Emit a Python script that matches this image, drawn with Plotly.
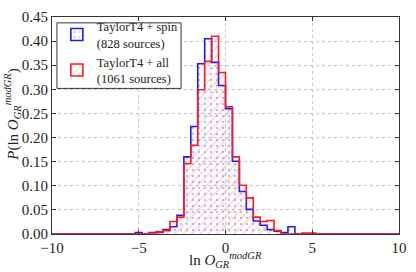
import plotly.graph_objects as go

# Histogram bin edges (shared) and densities
bin_edges = [-10.0, -5.2, -4.8, -4.4, -4.0, -3.6, -3.2, -2.8, -2.4, -2.0, -1.6,
             -1.2, -0.8, -0.4, 0.0, 0.4, 0.8, 1.2, 1.6, 2.0, 2.4, 2.8, 3.2,
             3.6, 4.0, 4.4, 4.8, 5.2, 10.0]
spin_density = [0.0, 0.003, 0.0, 0.003, 0.003, 0.009, 0.015, 0.039, 0.160, 0.223,
                0.353, 0.405, 0.356, 0.308, 0.260, 0.151, 0.088, 0.051, 0.027,
                0.018, 0.009, 0.006, 0.003, 0.015, 0.0, 0.0, 0.0, 0.0]
all_density = [0.0, 0.0, 0.0, 0.002, 0.005, 0.007, 0.026, 0.035, 0.146, 0.184,
               0.299, 0.358, 0.410, 0.335, 0.264, 0.160, 0.101, 0.075, 0.035,
               0.026, 0.028, 0.007, 0.0, 0.0, 0.0, 0.002, 0.002, 0.0]
spin_label = "TaylorT4 + spin<br>(828 sources)"
all_label = "TaylorT4 + all<br>(1061 sources)"

x_ticks = [-10, -5, 0, 5, 10]
x_tick_text = ["\u221210", "\u22125", "0", "5", "10"]
y_ticks = [0.0, 0.05, 0.10, 0.15, 0.20, 0.25, 0.30, 0.35, 0.40, 0.45]
y_tick_text = ["%.2f" % v for v in y_ticks]

FONT = "Times New Roman, Times, Liberation Serif, DejaVu Serif, serif"
BLUE = "#1a1aff"
RED = "#ff1a1a"
blue_pat = dict(shape=".", fgcolor="rgba(40,40,255,0.6)", bgcolor="rgba(0,0,0,0)",
                size=6, solidity=0.14)
red_pat = dict(shape="/", fgcolor="rgba(255,70,70,0.7)", bgcolor="rgba(0,0,0,0)",
               size=6, solidity=0.17)


def step_xy(edges, vals):
    xs = list(edges)
    ys = list(vals) + [vals[-1]]
    return xs, ys


fig = go.Figure()
xs, ys = step_xy(bin_edges, spin_density)
fig.add_trace(go.Scatter(
    x=xs, y=ys, mode="lines", line=dict(shape="hv", color=BLUE, width=1.6),
    fill="tozeroy", fillcolor="rgba(0,0,0,0)", fillpattern=blue_pat,
    showlegend=False, cliponaxis=False, hoverinfo="skip"))
xs, ys = step_xy(bin_edges, all_density)
fig.add_trace(go.Scatter(
    x=xs, y=ys, mode="lines", line=dict(shape="hv", color=RED, width=1.6),
    fill="tozeroy", fillcolor="rgba(0,0,0,0)", fillpattern=red_pat,
    showlegend=False, cliponaxis=False, hoverinfo="skip"))

# legend patches
fig.add_trace(go.Bar(x=[None], y=[None], name=spin_label,
                     marker=dict(color="white", line=dict(color=BLUE, width=1.6),
                                 pattern=blue_pat)))
fig.add_trace(go.Bar(x=[None], y=[None], name=all_label,
                     marker=dict(color="white", line=dict(color=RED, width=1.6),
                                 pattern=red_pat)))

fig.update_layout(
    width=416, height=272,
    margin=dict(l=52, r=12, t=9, b=38),
    paper_bgcolor="white", plot_bgcolor="white",
    font=dict(family=FONT, size=15, color="#222"),
    showlegend=True,
    legend=dict(x=0.014, y=1.024, xanchor="left", yanchor="top",
                borderwidth=0, bgcolor="rgba(0,0,0,0)",
                font=dict(family=FONT, size=12.5, color="#222"),
                tracegroupgap=0, itemwidth=30),
    shapes=[dict(type="rect", xref="paper", yref="paper",
                 x0=0.0142, x1=0.372, y0=0.671, y1=0.973,
                 line=dict(color="#333", width=1), fillcolor="white", layer="above")],
    annotations=[
        dict(text="ln <i>O</i><sub><i>GR</i></sub><sup><i>modGR</i></sup>",
             xref="paper", yref="paper", x=0.5, y=-0.065, xanchor="center", yanchor="top",
             showarrow=False, font=dict(family=FONT, size=15, color="#222")),
        dict(text="<i>P</i>(ln <i>O</i><sub><i>GR</i></sub><sup><i>modGR</i></sup>)",
             xref="paper", yref="paper", x=-0.115, y=0.55, xanchor="center", yanchor="middle",
             textangle=-90, showarrow=False, font=dict(family=FONT, size=15, color="#222")),
    ],
)
fig.update_xaxes(range=[-10, 10], tickvals=x_ticks, ticktext=x_tick_text,
                 tickfont=dict(family=FONT, size=15, color="#222"),
                 showline=True, linecolor="#333", linewidth=1, mirror="ticks",
                 ticks="inside", ticklen=4, tickcolor="#333",
                 showgrid=True, gridcolor="#c4c4c4", griddash="dot", gridwidth=1,
                 zeroline=False)
fig.update_yaxes(range=[0, 0.45], tickvals=y_ticks, ticktext=y_tick_text,
                 tickfont=dict(family=FONT, size=15, color="#222"),
                 showline=True, linecolor="#333", linewidth=1, mirror="ticks",
                 ticks="inside", ticklen=4, tickcolor="#333",
                 showgrid=True, gridcolor="#c4c4c4", griddash="dot", gridwidth=1,
                 zeroline=False)

fig.write_html("out.html", config={"displayModeBar": False},
               post_script="document.body.style.margin='0';")
